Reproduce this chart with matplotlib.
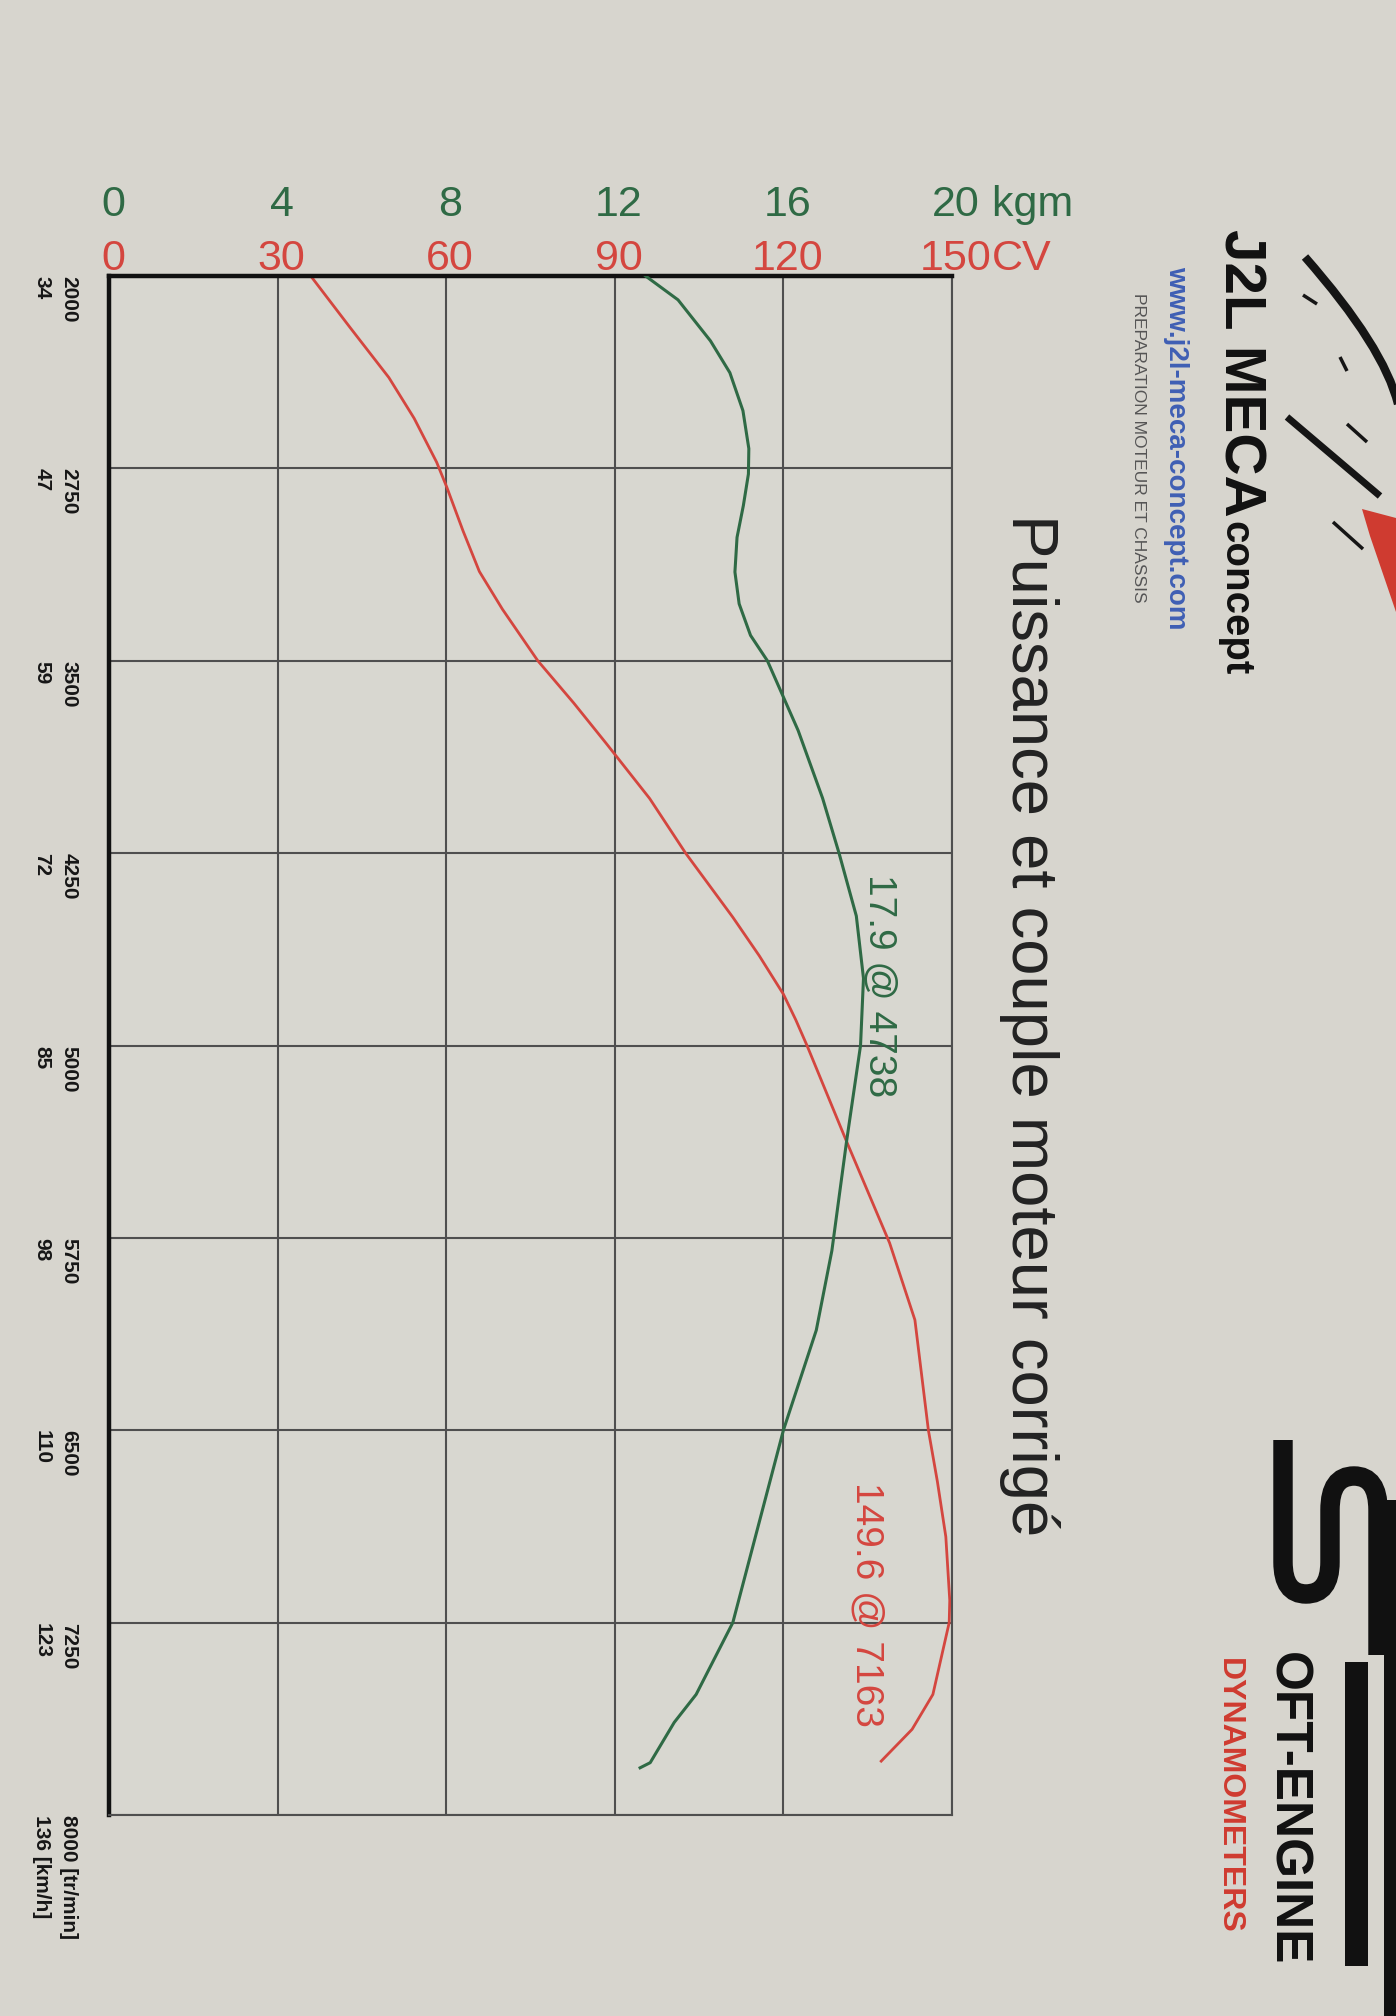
import matplotlib
matplotlib.use('Agg')
import matplotlib.pyplot as plt
from matplotlib.lines import Line2D
from matplotlib.patches import PathPatch, Polygon, Rectangle
from matplotlib.path import Path

plt.rcParams['font.family'] = ['Liberation Sans', 'DejaVu Sans']

# courbe de puissance (CV) relevée
rpm_cv = [2000, 2201, 2396, 2555, 2726, 2823, 2994, 3152, 3299, 3500, 3665, 3823, 4037,
          4250, 4500, 4650, 4800, 4900, 5000, 5372, 5770, 6070, 6500, 6700, 6915, 7163,
          7250, 7530, 7666, 7790]
puissance = [35.9, 42.9, 49.8, 54.3, 58.3, 60.1, 63.0, 65.9, 70.0, 76.3, 82.7, 88.5, 96.2,
             102.6, 111.0, 115.7, 120.0, 122.2, 124.2, 131.2, 138.9, 143.4, 145.8, 147.4, 148.9, 149.6,
             149.5, 146.6, 142.9, 137.4]

# courbe de couple (kgm) relevée
rpm_kgm = [2000, 2093, 2253, 2377, 2525, 2673, 2772, 2895, 3019, 3154, 3278, 3401, 3500,
           3772, 4036, 4250, 4495, 4738, 5000, 5372, 5800, 6110, 6500, 6875, 7250, 7530,
           7639, 7796, 7816]
couple = [12.73, 13.5, 14.27, 14.73, 15.04, 15.18, 15.17, 15.05, 14.9, 14.85, 14.95, 15.22, 15.62,
          16.35, 16.93, 17.32, 17.73, 17.9, 17.83, 17.5, 17.15, 16.78, 16.0, 15.4, 14.8, 13.93,
          13.41, 12.84, 12.6]

rpm_ticks = [2000, 2750, 3500, 4250, 5000, 5750, 6500, 7250, 8000]
kmh_ticks = [34, 47, 59, 72, 85, 98, 110, 123, 136]
cv_ticks = [0, 30, 60, 90, 120, 150]
kgm_ticks = [0, 4, 8, 12, 16, 20]

RED = '#d4463f'
GREEN = '#2f6a45'
W, H = 1396, 2016

fig = plt.figure(figsize=(W / 100, H / 100), dpi=100)
fig.patch.set_facecolor('#d7d5ce')


def fx(x, y):
    return x / W, 1 - y / H


def vtext(x, y, s, **kw):
    # texte tourné de 90° (la feuille est photographiée de travers)
    fig.text(*fx(x, y), s, rotation=-90, rotation_mode='anchor',
             ha='left', va='baseline', **kw)


ax = fig.add_axes([109 / W, 1 - 1815 / H, 843 / W, 1539 / H])
ax.set_facecolor('#d8d7d0')
ax.set_xlim(0, 150)
ax.set_ylim(8000, 2000)
ax.set_xticks(cv_ticks)
ax.set_yticks(rpm_ticks)
labels = ['%d\n%d' % (r, k) for r, k in zip(rpm_ticks, kmh_ticks)]
labels[-1] = '%d [tr/min]\n%d [km/h]' % (rpm_ticks[-1], kmh_ticks[-1])
ax.set_yticklabels(labels)
for t in ax.get_yticklabels():
    t.set_rotation(-90)
    t.set_va('top')
    t.set_ha('right')
    t.set_multialignment('left')
    t.set_fontweight('bold')
    t.set_fontsize(15)
    t.set_linespacing(1.55)
    t.set_color('#161616')
ax.tick_params(axis='y', length=0, pad=22)
ax.tick_params(axis='x', length=0, labelbottom=False, labeltop=False)
ax.grid(True, color='#4f4f4f', lw=1.5)
for s in ['top', 'left']:
    ax.spines[s].set_linewidth(3.2)
    ax.spines[s].set_color('#111111')
for s in ['right', 'bottom']:
    ax.spines[s].set_linewidth(1.5)
    ax.spines[s].set_color('#4f4f4f')

ax.plot(puissance, rpm_cv, color=RED, lw=2.0)

ax2 = ax.twiny()
ax2.set_xlim(0, 20)
ax2.axis('off')
ax2.plot(couple, rpm_kgm, color=GREEN, lw=2.2)

# graduations du haut
lbl = None
for v in cv_ticks:
    lbl = ax.annotate(str(v), xy=(v, 1), xycoords=('data', 'axes fraction'),
                      xytext=(4, 6), textcoords='offset pixels',
                      ha='center', va='baseline', fontsize=31, color=RED)
ax.annotate('CV', xy=(1, 0), xycoords=lbl, ha='left', va='bottom', fontsize=31, color=RED)
for v in kgm_ticks:
    lbl = ax2.annotate(str(v), xy=(v, 1), xycoords=('data', 'axes fraction'),
                       xytext=(4, 60), textcoords='offset pixels',
                       ha='center', va='baseline', fontsize=31, color=GREEN)
ax2.annotate(' kgm', xy=(1, 0), xycoords=lbl, ha='left', va='bottom', fontsize=31, color=GREEN)

ax.text(135.3, 4330, '17.9 @ 4738', rotation=-90, rotation_mode='anchor',
        ha='left', va='baseline', fontsize=28, color=GREEN)
ax.text(133, 6700, '149.6 @ 7163', rotation=-90, rotation_mode='anchor',
        ha='left', va='baseline', fontsize=28, color=RED)

# titre et logos
vtext(1012, 514, 'Puissance et couple moteur corrigé', fontsize=47, color='#222222')
vtext(1224, 229, 'J2L MECA', fontsize=42, fontweight='bold', color='#111111')
vtext(1224, 521, 'concept', fontsize=29, fontweight='bold', color='#111111')
vtext(1169, 266, 'www.j2l-meca-concept.com', fontsize=20, fontweight='bold', color='#3f5fb4')
vtext(1134, 293, 'PREPARATION MOTEUR ET CHASSIS', fontsize=12.5, color='#555555')

arc = Path([fx(1305, 257), fx(1384, 347), fx(1398, 404)], [Path.MOVETO, Path.CURVE3, Path.CURVE3])
fig.add_artist(PathPatch(arc, transform=fig.transFigure, fill=False, lw=6, color='#151515'))
for (x0, y0), (x1, y1), w in [((1303, 295), (1317, 304), 2.5), ((1340, 357), (1347, 371), 2.5),
                              ((1347, 424), (1367, 442), 2.5), ((1287, 417), (1380, 496), 5),
                              ((1333, 522), (1363, 549), 2.5)]:
    a, b = fx(x0, y0), fx(x1, y1)
    fig.add_artist(Line2D([a[0], b[0]], [a[1], b[1]], transform=fig.transFigure,
                          lw=w, color='#151515', solid_capstyle='butt'))
fig.add_artist(Polygon([fx(1362, 509), fx(1396, 518), fx(1396, 612), fx(1370, 536)],
                       transform=fig.transFigure, color='#cf3b30', lw=0))

s_path = Path([fx(1283, 1440), fx(1283, 1562), fx(1283, 1594), fx(1306, 1594),
               fx(1330, 1594), fx(1330, 1562), fx(1330, 1510), fx(1330, 1476),
               fx(1354, 1476), fx(1378, 1476), fx(1378, 1510), fx(1378, 1655)],
              [Path.MOVETO, Path.LINETO, Path.CURVE3, Path.CURVE3, Path.CURVE3, Path.CURVE3,
               Path.LINETO, Path.CURVE3, Path.CURVE3, Path.CURVE3, Path.CURVE3, Path.LINETO])
fig.add_artist(PathPatch(s_path, transform=fig.transFigure, fill=False, lw=14, color='#111111',
                         capstyle='butt'))
fig.add_artist(Rectangle(fx(1345, 1966), 23 / W, 304 / H, transform=fig.transFigure,
                         color='#111111', lw=0))
fig.add_artist(Rectangle(fx(1384, 2016), 12 / W, 516 / H, transform=fig.transFigure,
                         color='#111111', lw=0))
vtext(1273, 1652, 'OFT-ENGINE', fontsize=37, fontweight='bold', color='#111111')
vtext(1221, 1658, 'DYNAMOMETERS', fontsize=23, fontweight='bold', color='#cf3b30')

fig.savefig('out.png', dpi=100, facecolor=fig.get_facecolor())
